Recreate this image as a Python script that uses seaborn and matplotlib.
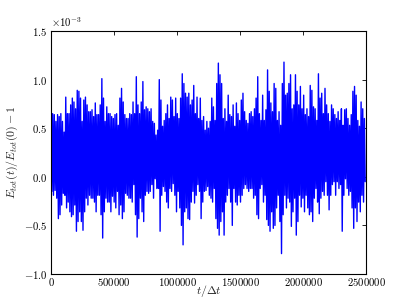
import numpy as np
import pandas as pd
import matplotlib
matplotlib.use('Agg')
import matplotlib.pyplot as plt
import seaborn as sns

# Energy error, read off the picture as the upper and lower extent of the
# trace in narrow time slices (units of 1e-3)
upper = [
    0.58, 0.65, 0.64, 0.57, 0.64, 0.62, 0.65, 0.57, 0.46, 0.82, 0.65, 0.65,
    0.74, 0.81, 0.77, 0.70, 0.89, 0.88, 0.81, 0.57, 0.79, 0.82, 0.74, 0.67,
    0.67, 0.69, 0.62, 0.76, 0.64, 0.64, 0.74, 1.01, 0.81, 0.57, 0.72, 0.65,
    0.65, 0.62, 0.60, 0.64, 0.65, 0.53, 0.81, 0.91, 0.77, 0.64, 0.60, 0.60,
    0.65, 0.64, 0.77, 0.65, 1.03, 0.74, 0.65, 0.77, 0.98, 0.69, 0.72, 0.70,
    0.67, 0.70, 0.57, 0.55, 0.43, 0.48, 1.00, 0.79, 0.52, 0.58, 0.65, 0.74,
    0.60, 0.82, 0.79, 0.62, 0.81, 0.65, 0.60, 0.81, 1.06, 0.96, 0.86, 0.82,
    0.86, 0.74, 0.79, 0.94, 0.65, 0.82, 0.60, 0.81, 0.58, 0.62, 0.48, 0.57,
    0.50, 0.57, 0.81, 0.72, 0.58, 0.96, 1.17, 1.05, 0.96, 0.60, 0.70, 0.57,
    0.84, 0.64, 0.62, 0.74, 0.52, 0.76, 0.65, 0.58, 0.79, 0.86, 0.67, 0.58,
    0.55, 0.65, 0.67, 0.62, 0.70, 0.81, 1.03, 0.65, 0.58, 0.84, 0.58, 0.69,
    1.10, 0.88, 0.76, 0.67, 0.96, 0.91, 0.58, 0.67, 0.53, 0.96, 1.18, 0.84,
    0.86, 0.96, 1.05, 0.70, 0.74, 1.05, 0.88, 0.74, 0.93, 0.70, 0.84, 0.64,
    0.70, 0.62, 0.94, 0.89, 0.72, 0.70, 0.58, 1.06, 0.81, 0.86, 0.65, 0.91,
    0.74, 0.65, 0.57, 0.74, 0.70, 0.64, 0.60, 0.67, 0.58, 0.70, 0.53, 0.69,
    0.70, 0.60, 0.53, 0.64, 0.88, 0.93, 0.84, 0.58, 0.52, 0.77, 0.70, 0.60,
]
lower = [
    -0.15, -0.19, -0.14, -0.22, -0.43, -0.39, -0.29, -0.17, -0.19, -0.32, -0.26, -0.36,
    -0.41, -0.39, -0.29, -0.56, -0.46, -0.36, -0.46, -0.55, -0.36, -0.22, -0.29, -0.19,
    -0.22, -0.22, -0.26, -0.36, -0.19, -0.19, -0.39, -0.63, -0.36, -0.22, -0.26, -0.26,
    -0.36, -0.20, -0.26, -0.32, -0.15, -0.39, -0.29, -0.43, -0.36, -0.17, -0.19, -0.22,
    -0.22, -0.26, -0.08, -0.39, -0.62, -0.43, -0.22, -0.36, -0.46, -0.19, -0.15, -0.17,
    -0.15, -0.08, -0.22, -0.02, -0.12, -0.12, -0.56, -0.19, -0.10, -0.15, -0.26, -0.32,
    -0.12, -0.15, -0.07, -0.19, -0.36, -0.15, -0.32, -0.50, -0.70, -0.36, -0.32, -0.43,
    -0.44, -0.26, -0.15, -0.27, -0.19, -0.08, -0.15, -0.43, -0.26, -0.15, -0.14, -0.10,
    -0.19, -0.22, -0.26, -0.12, -0.43, -0.53, -0.60, -0.46, -0.36, -0.60, -0.26, -0.19,
    -0.12, -0.26, -0.50, -0.12, -0.26, -0.29, -0.19, -0.26, -0.19, -0.12, -0.08, -0.12,
    -0.15, -0.12, -0.12, -0.22, -0.19, -0.39, -0.43, -0.12, -0.08, -0.26, -0.19, -0.44,
    -0.50, -0.56, -0.36, -0.53, -0.50, -0.32, -0.19, -0.46, -0.79, -0.39, -0.19, -0.32,
    -0.22, -0.26, -0.51, -0.36, -0.22, -0.60, -0.46, -0.19, -0.31, -0.22, -0.36, -0.19,
    -0.32, -0.39, -0.36, -0.46, -0.22, -0.12, -0.26, -0.38, -0.22, -0.15, -0.19, -0.05,
    -0.19, -0.34, -0.19, -0.08, -0.05, -0.19, -0.05, -0.12, -0.08, -0.56, -0.19, -0.02,
    -0.12, -0.19, -0.15, -0.32, -0.53, -0.32, -0.46, -0.26, -0.36, -0.19, -0.26, -0.05,
]
t_end = 2500000

# time samples: each slice gives a high and a low point
n = len(upper)
t_slice = np.linspace(0, t_end, n, endpoint=False)
half = t_end / n / 2
t = np.ravel(np.column_stack([t_slice, t_slice + half]))
err = np.ravel(np.column_stack([upper, lower])) * 1e-3
df = pd.DataFrame({'t': t, 'err': err})

sns.set_style('white')
plt.rcParams['font.family'] = ['cmr10', 'DejaVu Serif']
plt.rcParams['mathtext.fontset'] = 'cm'
plt.rcParams['axes.formatter.use_mathtext'] = True
plt.rcParams['axes.unicode_minus'] = True

fig = plt.figure(figsize=(4.07, 3.05), dpi=100)
ax = fig.add_axes([0.1253, 0.1016, 0.774, 0.7967])
sns.lineplot(data=df, x='t', y='err', ax=ax, color='#0000ff', linewidth=1.0,
             estimator=None, sort=False)

ax.set_xlim(0, t_end)
ax.set_ylim(-1.0e-3, 1.5e-3)
ax.set_xticks([0, 500000, 1000000, 1500000, 2000000, 2500000])
ax.set_yticks([-1.0e-3, -0.5e-3, 0.0, 0.5e-3, 1.0e-3, 1.5e-3])
ax.ticklabel_format(axis='x', style='plain')
ax.ticklabel_format(axis='y', style='sci', scilimits=(0, 0))
ax.tick_params(direction='in', length=3.2, width=0.6, pad=2.5, labelsize=7.7,
               top=True, right=True, colors='black')
ax.tick_params(axis='x', pad=1.5)
ax.yaxis.get_offset_text().set_fontsize(7.7)

for s in ax.spines.values():
    s.set_visible(True)
    s.set_linewidth(0.8)
    s.set_color('black')

ax.set_xlabel(r'$t/\Delta t$', fontsize=8.5, labelpad=-4)
ax.set_ylabel(r'$E_{tot}(t)/E_{tot}(0) - 1$', fontsize=8.5, labelpad=3)

fig.savefig('out.png', dpi=100)
